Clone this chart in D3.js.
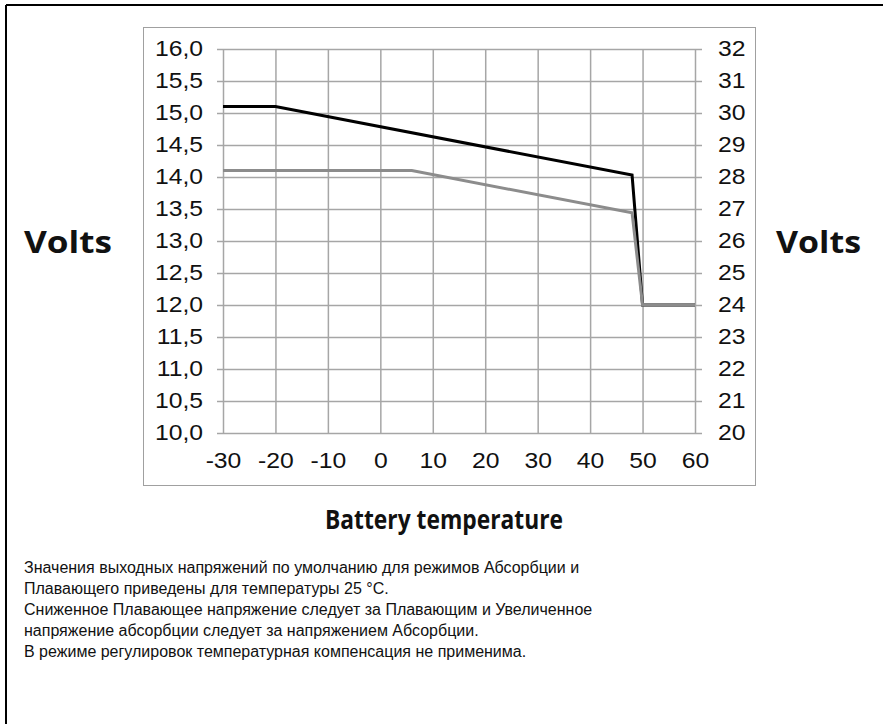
<!DOCTYPE html>
<html lang="en">
<head>
<meta charset="UTF-8">
<title>Battery temperature compensation</title>
<script src="https://cdn.jsdelivr.net/npm/d3@7"></script>
<style>
    body { margin: 0; background: #fff; }
    svg { display: block; }
    .tick text { font-family: "Liberation Sans", Arial, sans-serif; font-size: 21.5px; fill: #111; }
    .grid line { stroke: #a6a6a6; stroke-width: 1.5px; }
    .grid path { display: none; }
    .lbl { font-family: "Open Sans", sans-serif; font-weight: bold; fill: #111; }
    .note { font-family: "Liberation Sans", Arial, sans-serif; font-size: 16px; fill: #111; }
</style>
</head>
<body>
<div id="chart"></div>
<script>
// data
var xTicks = [-30, -20, -10, 0, 10, 20, 30, 40, 50, 60];
var yTicksLeft = [10, 10.5, 11, 11.5, 12, 12.5, 13, 13.5, 14, 14.5, 15, 15.5, 16];
var yTicksRight = [20, 21, 22, 23, 24, 25, 26, 27, 28, 29, 30, 31, 32];
var absorptionTemp = [-30, -20, 48, 50, 60];
var absorptionVolts = [15.1, 15.1, 14.03, 12.0, 12.0];
var floatTemp = [-30, 6, 48, 50, 60];
var floatVolts = [14.1, 14.1, 13.44, 12.0, 12.0];
var notes = [
    "Значения выходных напряжений по умолчанию для режимов Абсорбции и",
    "Плавающего приведены для температуры 25 °C.",
    "Сниженное Плавающее напряжение следует за Плавающим и Увеличенное",
    "напряжение абсорбции следует за напряжением Абсорбции.",
    "В режиме регулировок температурная компенсация не применима."
];

var W = 883, H = 724;
var svg = d3.select("#chart").append("svg").attr("width", W).attr("height", H);

// outer frame (top + left visible)
svg.append("line").attr("x1", 6).attr("y1", 5).attr("x2", W).attr("y2", 5)
    .style("stroke", "#000").style("stroke-width", 2);
svg.append("line").attr("x1", 6).attr("y1", 5).attr("x2", 6).attr("y2", H)
    .style("stroke", "#000").style("stroke-width", 2);

// inner chart box
svg.append("rect").attr("x", 143.5).attr("y", 27.5).attr("width", 612).attr("height", 458)
    .style("fill", "none").style("stroke", "#a0a0a0").style("stroke-width", 1);

var pLeft = 223, pRight = 695, pTop = 49, pBottom = 433;
var x = d3.scaleLinear().domain([-30, 60]).range([pLeft, pRight]);
var y = d3.scaleLinear().domain([10, 16]).range([pBottom, pTop]);
var y2 = d3.scaleLinear().domain([20, 32]).range([pBottom, pTop]);

var fmtComma = function(d){ return d.toFixed(1).replace(".", ","); };
var fmtInt = function(d){ return String(d); };
var sx = 1.15; // labels in the picture are a bit wide

function widen(g){
    g.select(".domain").remove();
    g.selectAll(".tick text").attr("transform", "scale(" + sx + ",1)");
}

// horizontal grid + ticks on both sides
svg.append("g").attr("class", "grid").attr("transform", "translate(" + (pLeft - 6) + ",0)")
    .call(d3.axisRight(y).tickValues(yTicksLeft).tickSize(pRight - pLeft + 13).tickFormat(""));
// vertical grid
svg.append("g").attr("class", "grid").attr("transform", "translate(0," + pTop + ")")
    .call(d3.axisBottom(x).tickValues(xTicks).tickSize(pBottom - pTop).tickFormat(""));

// left labels
svg.append("g").attr("transform", "translate(" + (pLeft - 6) + ",0)")
    .call(d3.axisLeft(y).tickValues(yTicksLeft).tickSize(0).tickPadding(14 / sx).tickFormat(fmtComma))
    .call(widen);
// right labels
svg.append("g").attr("transform", "translate(" + (pRight + 7) + ",0)")
    .call(d3.axisRight(y2).tickValues(yTicksRight).tickSize(0).tickPadding(16 / sx).tickFormat(fmtInt))
    .call(widen);
// bottom labels
svg.append("g").attr("transform", "translate(0," + pBottom + ")")
    .call(d3.axisBottom(x).tickValues(xTicks).tickSize(0).tickPadding(20).tickFormat(fmtInt))
    .call(widen);

var line = d3.line().x(function(d){ return x(d[0]); }).y(function(d){ return y(d[1]); });

svg.append("path").datum(d3.zip(absorptionTemp, absorptionVolts))
    .attr("d", line).style("fill", "none").style("stroke", "#000").style("stroke-width", 3);
svg.append("path").datum(d3.zip(floatTemp, floatVolts))
    .attr("d", line).style("fill", "none").style("stroke", "#8c8c8c").style("stroke-width", 3);

// axis titles
svg.append("text").attr("class", "lbl").attr("x", 24).attr("y", 253)
    .attr("textLength", 88).attr("lengthAdjust", "spacingAndGlyphs")
    .style("font-size", "30px").text("Volts");
svg.append("text").attr("class", "lbl").attr("x", 776).attr("y", 253)
    .attr("textLength", 85).attr("lengthAdjust", "spacingAndGlyphs")
    .style("font-size", "30px").text("Volts");
svg.append("text").attr("class", "lbl").attr("x", 325).attr("y", 529)
    .attr("textLength", 238).attr("lengthAdjust", "spacingAndGlyphs")
    .style("font-size", "27px").text("Battery temperature");

// notes
svg.selectAll(".note").data(notes).enter().append("text")
    .attr("class", "note").attr("x", 24)
    .attr("y", function(d, i){ return 573 + i * 21; })
    .text(function(d){ return d; });
</script>
</body>
</html>
